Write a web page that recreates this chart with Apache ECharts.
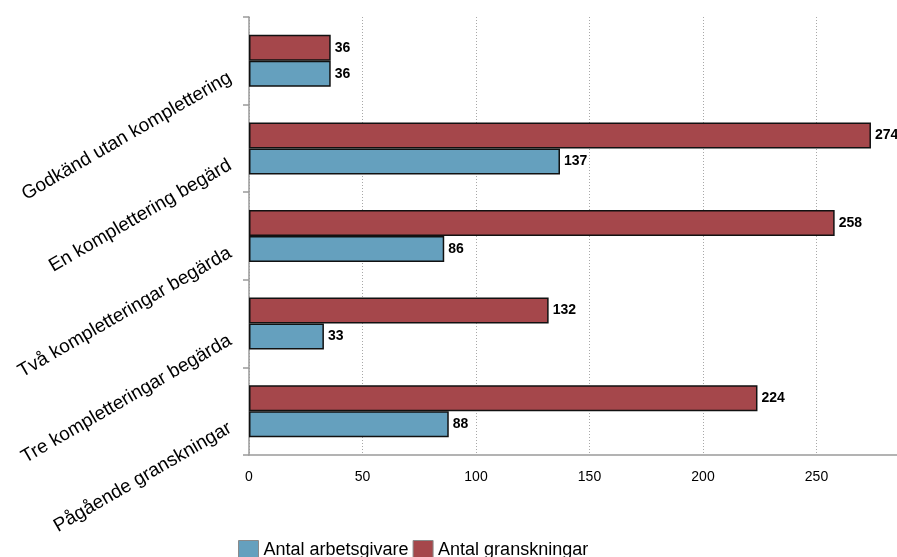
<!DOCTYPE html>
<html>
<head>
<meta charset="utf-8">
<script src="https://cdn.jsdelivr.net/npm/echarts@6/dist/echarts.min.js"></script>
<style>
  html, body { margin: 0; padding: 0; background: #fff; }
  #chart { width: 897px; height: 557px; }
</style>
</head>
<body>
<div id="chart"></div>
<script>
// Granskningsutfall per kategori
const categories = [
  'Godkänd utan komplettering',
  'En komplettering begärd',
  'Två kompletteringar begärda',
  'Tre kompletteringar begärda',
  'Pågående granskningar'
];
const arbetsgivare = [36, 137, 86, 33, 88];
const granskningar = [36, 274, 258, 132, 224];
const seriesNames = ['Antal arbetsgivare', 'Antal granskningar'];
const xTicks = { min: 0, max: 300, interval: 50 };

const FONT = '"Liberation Sans", Arial, Helvetica, sans-serif';
const BLUE = '#65a0be';
const RED = '#a5474b';

const chart = echarts.init(document.getElementById('chart'), null, { renderer: 'canvas' });

const valueLabel = {
  show: true,
  position: 'right',
  distance: 4,
  color: '#000',
  fontFamily: FONT,
  fontWeight: 'bold',
  fontSize: 14
};

const barStyle = (color) => ({ color: color, borderColor: '#111', borderWidth: 1.5 });

chart.setOption({
  animation: false,
  backgroundColor: '#fff',
  textStyle: { fontFamily: FONT },
  grid: {
    left: 249, top: 17, width: 681, height: 438,
    containLabel: false,
    outerBoundsMode: 'none'
  },
  legend: {
    data: seriesNames,
    left: 233,
    top: 535,
    itemWidth: 20,
    itemHeight: 20,
    itemGap: 4,
    icon: 'rect',
    itemStyle: { borderColor: '#8a8a8a', borderWidth: 1 },
    textStyle: { fontFamily: FONT, fontSize: 18, color: '#000' }
  },
  xAxis: {
    type: 'value',
    min: xTicks.min,
    max: xTicks.max,
    interval: xTicks.interval,
    axisLine: { show: true, lineStyle: { color: '#9a9a9a', width: 1.5 } },
    axisTick: { show: false },
    axisLabel: { color: '#000', fontSize: 14, fontFamily: FONT, margin: 15 },
    splitLine: { show: true, lineStyle: { color: '#a8a8a8', type: [1, 2], width: 1 } }
  },
  yAxis: {
    type: 'category',
    data: categories,
    inverse: true,
    axisLine: { show: true, lineStyle: { color: '#9a9a9a', width: 1.5 } },
    axisTick: { show: true, length: 6, lineStyle: { color: '#9a9a9a', width: 1.5 } },
    axisLabel: {
      rotate: 30, color: '#000', fontSize: 19, fontFamily: FONT,
      margin: 28, verticalAlign: 'top', lineHeight: 20, padding: [8, 0, 0, 0]
    },
    splitLine: { show: false }
  },
  series: [
    {
      name: seriesNames[1],
      type: 'bar',
      data: granskningar,
      barWidth: 26,
      barGap: '0%',
      itemStyle: barStyle(RED),
      label: valueLabel
    },
    {
      name: seriesNames[0],
      type: 'bar',
      data: arbetsgivare,
      barWidth: 26,
      barGap: '0%',
      itemStyle: barStyle(BLUE),
      label: valueLabel
    }
  ]
});
</script>
</body>
</html>
